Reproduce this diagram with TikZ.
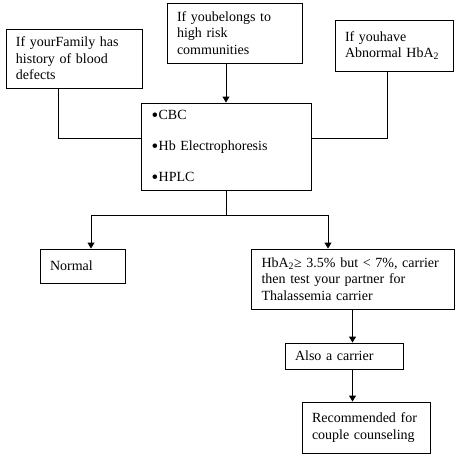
\documentclass[tikz,border=0pt]{standalone}
\usepackage{fontspec}
\setmainfont{Liberation Serif}
\usetikzlibrary{arrows.meta}
\newcommand{\mybul}{\raisebox{-2pt}{\fontsize{19}{19}\selectfont\textbullet}\kern0.5pt}
\tikzset{
  box/.style={draw, line width=0.9pt, rectangle, inner xsep=10pt, inner ysep=0pt, align=left,
    font=\fontsize{14}{16.5}\selectfont},
  conn/.style={line width=0.9pt},
  arr/.style={conn, -{Triangle[length=6pt,width=7pt]}},
}
\begin{document}
\begin{tikzpicture}[x=1pt,y=-1pt]
\useasboundingbox (0,0) rectangle (460,458);
\node[box, minimum width=136pt, minimum height=59pt, text width=116pt] (A) at (74,58.5)
  {If yourFamily has\\history of blood\\defects};
\node[box, minimum width=135pt, minimum height=60pt, text width=115pt] (B) at (234.5,33)
  {If youbelongs to\\high risk\\communities};
\node[box, minimum width=118pt, minimum height=51pt, text width=98pt] (C) at (394,45.5)
  {If youhave\\Abnormal HbA\textsubscript{2}};
\node[box, minimum width=170pt, minimum height=87pt, text width=149pt,
  font=\fontsize{14}{31}\selectfont] (D) at (226,146.5)
  {\mybul CBC\\\mybul Hb Electrophoresis\\\mybul HPLC};
\node[box, minimum width=85pt, minimum height=34pt, text width=65pt] (N) at (82.5,266)
  {Normal};
\node[box, minimum width=203pt, minimum height=60pt, text width=182pt] (Car) at (352.5,279)
  {HbA\textsubscript{2}≥ 3.5\% but < 7\%, carrier\\then test your partner for\\Thalassemia carrier};
\node[box, minimum width=118pt, minimum height=26pt, text width=98pt] (Al) at (344,356)
  {Also a carrier};
\node[box, minimum width=128pt, minimum height=51pt, text width=108pt] (R) at (366,427.5)
  {Recommended for\\couple counseling};
\coordinate (j) at (226,215);
\draw[conn] ([xshift=-16pt]A.south) |- ([yshift=8.5pt]D.west);
\draw[conn] ([xshift=-7pt]C.south) |- ([yshift=8.5pt]D.east);
\draw[arr] (B.south -| D.north) -- (D.north);
\draw[conn] (D.south) -- (j);
\draw[arr] (j) -| ([xshift=8.5pt]N.north);
\draw[arr] (j) -| ([xshift=-24.5pt]Car.north);
\draw[arr] (Car.south) -- (Car.south |- Al.north);
\draw[arr] (Car.south |- Al.south) -- (Car.south |- R.north);
\end{tikzpicture}
\end{document}
